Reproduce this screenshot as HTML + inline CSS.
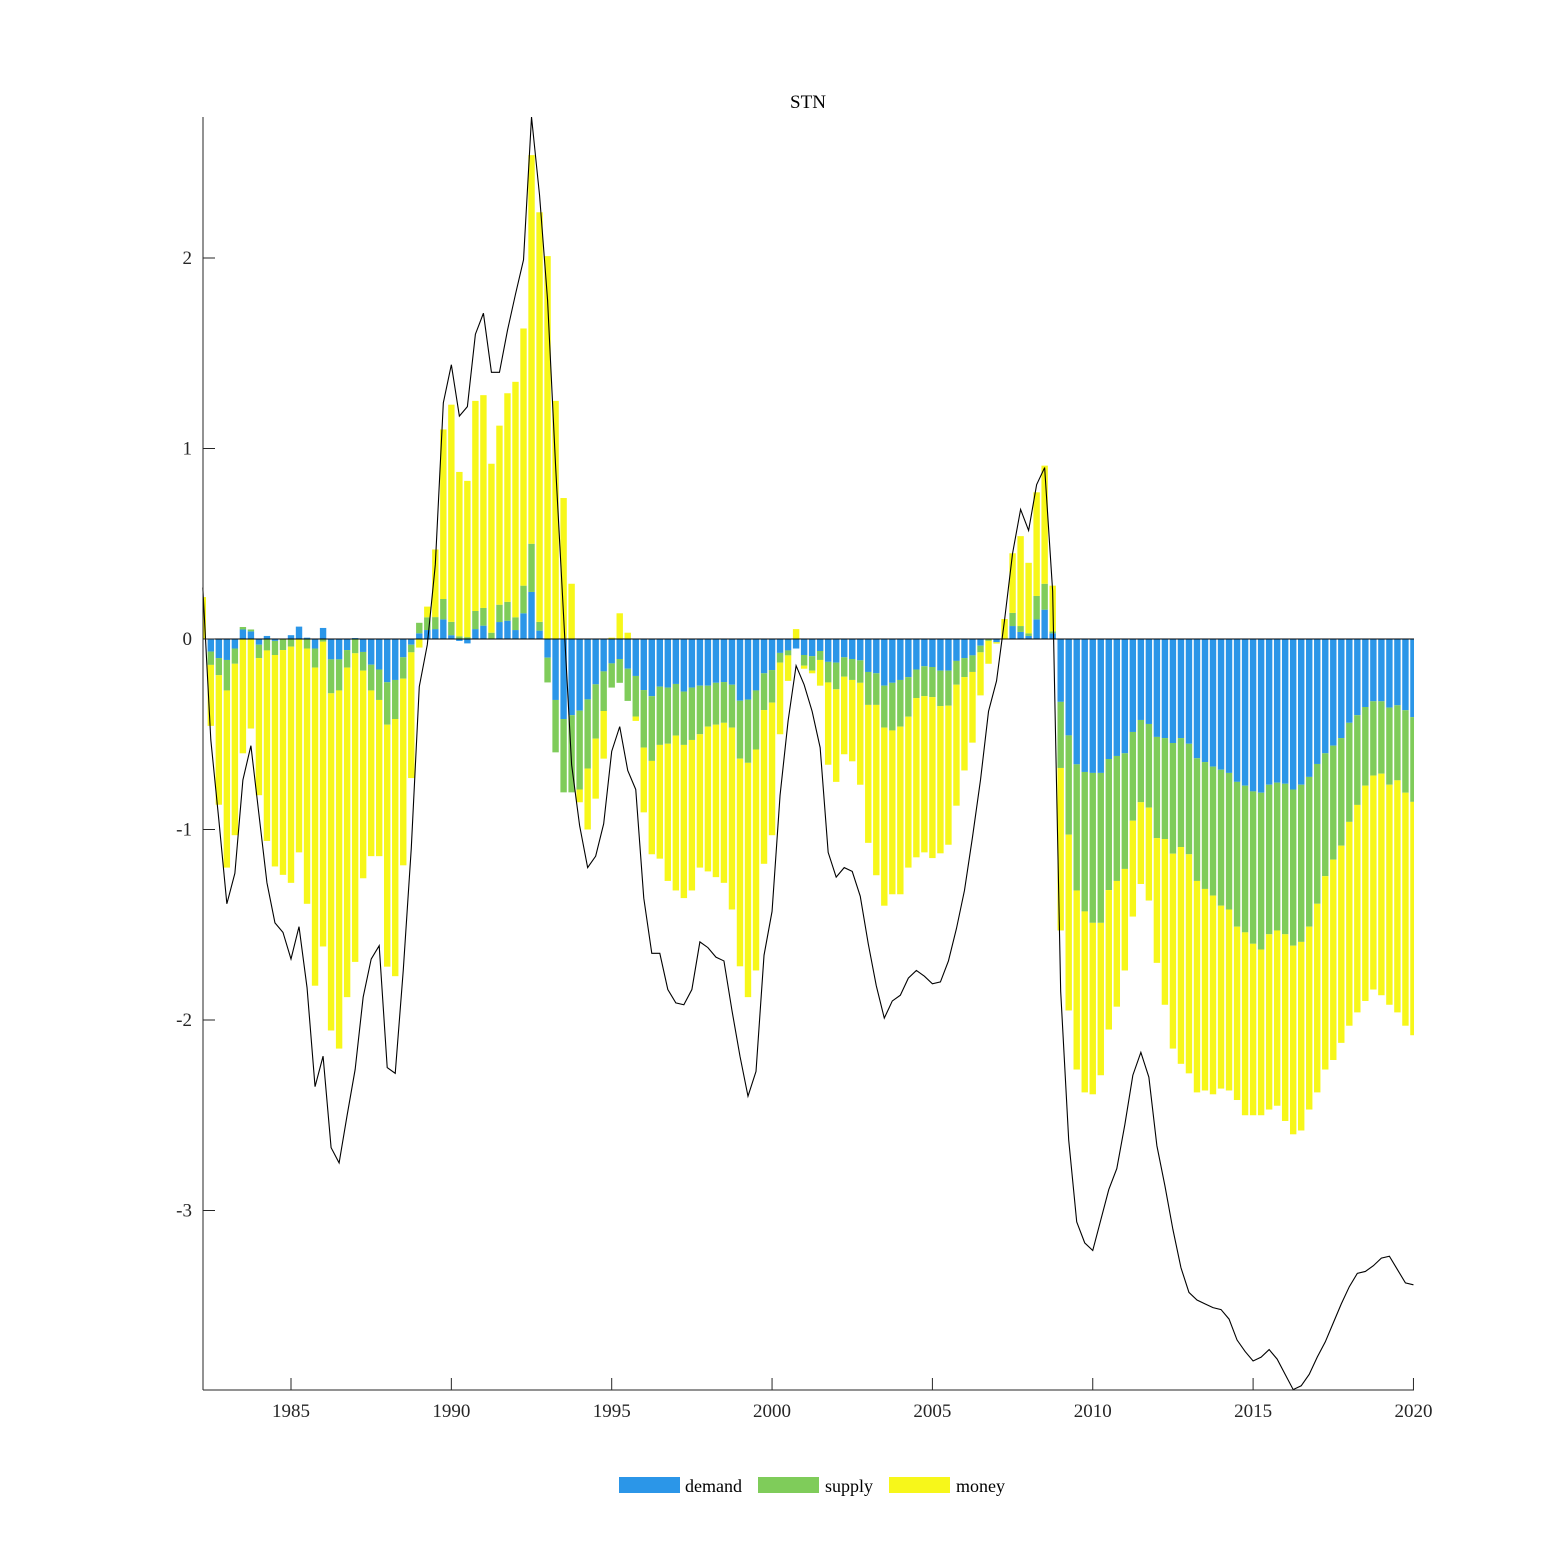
<!DOCTYPE html>
<html><head><meta charset="utf-8"><style>
html,body{margin:0;padding:0;background:#fff}
svg{display:block;font-family:"Liberation Serif",serif}
</style></head><body>
<svg id="chart" width="1563" height="1563" viewBox="0 0 1563 1563">
<defs><clipPath id="plotclip"><rect x="203" y="100" width="1211" height="1290"/></clipPath></defs>
<g id="bars" clip-path="url(#plotclip)"></g>
<g id="line"></g>
<g id="axes"></g>
<text x="808" y="108" font-size="19" text-anchor="middle">STN</text>
<g>
<rect x="619" y="1477" width="61" height="16" fill="#2b96e8"/>
<text x="685" y="1492" font-size="18">demand</text>
<rect x="758" y="1477" width="61" height="16" fill="#7fcc5a"/>
<text x="825" y="1492" font-size="18">supply</text>
<rect x="889" y="1477" width="61" height="16" fill="#f7f71a"/>
<text x="956" y="1492" font-size="18">money</text>
</g>
</svg>
<script>
const startYear = 1982.25;
const demand = [0,-.066,-.1,-.11,-.05,.05,.04,-.03,.016,-.01,0,.02,.065,.007,-.05,.058,-.107,-.107,-.058,.005,-.068,-.135,-.16,-.227,-.215,-.096,-.03,.03,.047,.052,.103,.02,-.01,-.023,.052,.07,0,.089,.096,.047,.135,.247,.044,-.098,-.32,-.42,-.4,-.376,-.317,-.238,-.17,-.128,-.105,-.156,-.194,-.268,-.3,-.25,-.255,-.236,-.276,-.255,-.245,-.245,-.23,-.226,-.24,-.324,-.318,-.27,-.18,-.163,-.073,-.06,-.05,-.084,-.09,-.063,-.12,-.124,-.096,-.105,-.112,-.173,-.18,-.245,-.23,-.215,-.2,-.16,-.143,-.147,-.166,-.166,-.115,-.1,-.086,-.035,0,-.017,0,.068,.037,.016,.103,.154,.03,-.33,-.506,-.658,-.698,-.703,-.703,-.63,-.614,-.6,-.488,-.425,-.446,-.514,-.52,-.546,-.52,-.55,-.626,-.646,-.67,-.686,-.703,-.75,-.77,-.8,-.807,-.765,-.754,-.76,-.79,-.765,-.724,-.656,-.6,-.56,-.52,-.44,-.4,-.357,-.327,-.327,-.36,-.348,-.374,-.41];
const supply = [0,-.07,-.09,-.16,-.08,.013,.01,-.07,-.06,-.074,-.058,-.04,0,-.05,-.1,-.014,-.178,-.163,-.092,-.075,-.098,-.135,-.16,-.223,-.205,-.112,-.04,.055,.067,.063,.107,.07,.014,.01,.095,.093,.033,.091,.099,.067,.145,.253,.046,-.13,-.275,-.385,-.405,-.414,-.363,-.285,-.208,-.127,-.125,-.169,-.213,-.302,-.34,-.306,-.295,-.271,-.28,-.275,-.255,-.215,-.22,-.214,-.225,-.304,-.332,-.31,-.193,-.171,-.051,-.026,0,-.056,-.076,-.047,-.108,-.14,-.102,-.11,-.118,-.173,-.166,-.22,-.25,-.245,-.208,-.15,-.157,-.158,-.186,-.184,-.125,-.1,-.087,-.035,-.01,0,0,.069,.031,.014,.123,.136,.01,-.347,-.521,-.662,-.732,-.787,-.787,-.688,-.656,-.607,-.466,-.432,-.439,-.531,-.53,-.581,-.572,-.58,-.644,-.666,-.677,-.714,-.717,-.76,-.77,-.8,-.823,-.785,-.776,-.79,-.82,-.825,-.786,-.734,-.645,-.598,-.565,-.52,-.471,-.413,-.39,-.38,-.405,-.394,-.433,-.445];
const money = [.22,-.32,-.68,-.93,-.9,-.6,-.47,-.72,-1,-1.11,-1.18,-1.24,-1.12,-1.34,-1.67,-1.6,-1.77,-1.88,-1.73,-1.62,-1.09,-.87,-.82,-1.27,-1.35,-.98,-.66,-.045,.056,.355,.89,1.14,.863,.82,1.103,1.117,.887,.94,1.095,1.236,1.35,2.04,2.15,2.01,1.25,.74,.29,-.067,-.32,-.315,-.25,.007,.135,.033,-.023,-.34,-.49,-.597,-.72,-.813,-.804,-.79,-.7,-.76,-.8,-.84,-.955,-1.09,-1.23,-1.16,-.807,-.696,-.376,-.134,.052,-.016,-.014,-.135,-.432,-.486,-.407,-.427,-.535,-.724,-.894,-.935,-.86,-.88,-.792,-.836,-.82,-.845,-.773,-.73,-.635,-.49,-.371,-.226,-.12,-.007,.105,.313,.472,.37,.544,.62,.24,-.853,-.923,-.94,-.95,-.9,-.8,-.732,-.66,-.533,-.503,-.429,-.488,-.655,-.87,-1.023,-1.138,-1.15,-1.11,-1.058,-1.043,-.96,-.95,-.91,-.96,-.9,-.87,-.92,-.92,-.98,-.99,-.99,-.96,-.99,-1.015,-1.052,-1.035,-1.07,-1.089,-1.13,-1.123,-1.163,-1.155,-1.218,-1.223,-1.225];
const total = [.27,-.53,-.95,-1.39,-1.23,-.74,-.56,-.92,-1.28,-1.49,-1.54,-1.68,-1.51,-1.83,-2.35,-2.19,-2.67,-2.75,-2.5,-2.26,-1.88,-1.68,-1.61,-2.25,-2.28,-1.74,-1.1,-.25,-.03,.39,1.24,1.44,1.17,1.22,1.6,1.71,1.4,1.4,1.62,1.81,1.99,2.74,2.33,1.78,.91,.12,-.66,-.98,-1.2,-1.14,-.97,-.59,-.46,-.69,-.79,-1.36,-1.65,-1.65,-1.84,-1.91,-1.92,-1.84,-1.59,-1.62,-1.67,-1.69,-1.95,-2.19,-2.4,-2.27,-1.66,-1.43,-.82,-.43,-.14,-.24,-.38,-.57,-1.12,-1.25,-1.2,-1.22,-1.35,-1.6,-1.82,-1.99,-1.9,-1.87,-1.78,-1.74,-1.77,-1.81,-1.8,-1.69,-1.52,-1.32,-1.04,-.74,-.38,-.22,.1,.45,.68,.57,.81,.9,.25,-1.85,-2.63,-3.06,-3.17,-3.21,-3.05,-2.89,-2.78,-2.55,-2.29,-2.17,-2.3,-2.66,-2.87,-3.1,-3.3,-3.43,-3.47,-3.49,-3.51,-3.52,-3.57,-3.68,-3.74,-3.79,-3.77,-3.73,-3.78,-3.86,-3.94,-3.92,-3.86,-3.77,-3.69,-3.59,-3.49,-3.4,-3.33,-3.32,-3.29,-3.25,-3.24,-3.31,-3.38,-3.39];
const yTicks = [2,1,0,-1,-2,-3];
const xTicks = [1985,1990,1995,2000,2005,2010,2015,2020];

const NS = "http://www.w3.org/2000/svg";
const X0 = 203, X1 = 1414, Y0 = 117, Y1 = 1390;
function xScale(t){ return 291 + (t - 1985) * 32.07; }
function yScale(v){ return 639 - v * 190.5; }
function mk(tag, attrs, parent){ const e = document.createElementNS(NS, tag); for (const k in attrs) e.setAttribute(k, attrs[k]); parent.appendChild(e); return e; }

const bars = document.getElementById('bars');
const series = [[demand,'#2b96e8','demand'],[supply,'#7fcc5a','supply'],[money,'#f7f71a','money']];
const bw = 6.4;
for (let i = 0; i < demand.length; i++) {
  const cx = xScale(startYear + i * 0.25);
  let pos = 0, neg = 0;
  for (const [arr, col, nm] of series) {
    const v = arr[i]; if (!v) continue;
    let a, b;
    if (v > 0) { a = pos; b = pos + v; pos = b; } else { a = neg; b = neg + v; neg = b; }
    const ya = yScale(a), yb = yScale(b);
    const r = mk('rect', {x: cx - bw/2, y: Math.min(ya,yb), width: bw, height: Math.abs(yb-ya), fill: col}, bars);
    
    
  }
}
const lineG = document.getElementById('line');
const pts = total.map((v,i)=> xScale(startYear + i*0.25).toFixed(2) + ',' + yScale(v).toFixed(2)).join(' ');
const pl = mk('polyline', {points: pts, fill: 'none', stroke: '#000', 'stroke-width': 1.1}, lineG);



const axes = document.getElementById('axes');
const zl = mk('line', {x1: X0, x2: X1, y1: yScale(0), y2: yScale(0), stroke: '#000', 'stroke-width': 1}, axes);


const ya = mk('line', {x1: X0, x2: X0, y1: Y0, y2: Y1, stroke: '#262626', 'stroke-width': 1}, axes);


const xa = mk('line', {x1: X0, x2: X1, y1: Y1, y2: Y1, stroke: '#262626', 'stroke-width': 1}, axes);


for (const t of yTicks) {
  const y = yScale(t);
  const tk = mk('line', {x1: X0, x2: X0 + 12, y1: y, y2: y, stroke: '#262626'}, axes);
  
  
  const tx = mk('text', {x: X0 - 11, y: y + 6, 'font-size': 19, 'text-anchor': 'end', fill: '#262626'}, axes);
  tx.textContent = String(t);
  
  
}
for (const t of xTicks) {
  const x = xScale(t);
  const tk = mk('line', {x1: x, x2: x, y1: Y1, y2: Y1 - 12, stroke: '#262626'}, axes);
  
  
  const tx = mk('text', {x: x, y: Y1 + 27, 'font-size': 19, 'text-anchor': 'middle', fill: '#262626'}, axes);
  tx.textContent = String(t);
  
  
}
</script>
</body></html>
